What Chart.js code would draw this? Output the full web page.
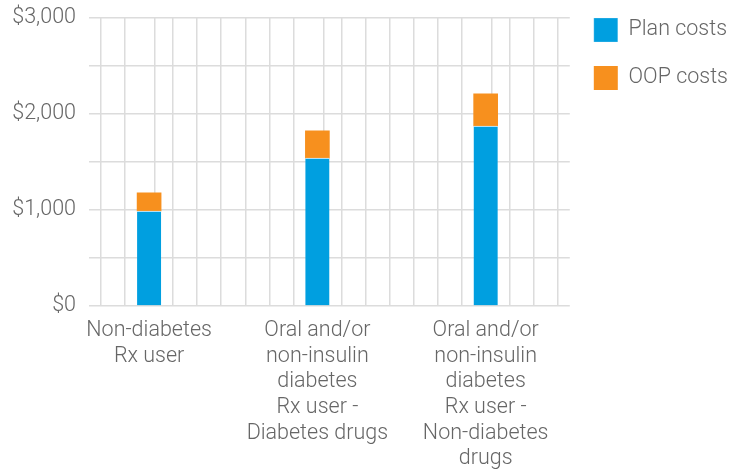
<!DOCTYPE html>
<html>
<head>
<meta charset="utf-8">
<script src="https://cdn.jsdelivr.net/npm/chart.js@4.4.1/dist/chart.umd.min.js"></script>
<style>
    html, body { margin: 0; padding: 0; background: #fff; }
</style>
</head>
<body>
<canvas id="costChart" width="738" height="469"></canvas>
<script>
const categories = [
    ['Non-diabetes', 'Rx user'],
    ['Oral and/or', 'non-insulin', 'diabetes', 'Rx user -', 'Diabetes drugs'],
    ['Oral and/or', 'non-insulin', 'diabetes', 'Rx user -', 'Non-diabetes', 'drugs'],
];
const planCosts = [990, 1540, 1875];
const oopCosts = [190, 285, 335];
const yTickLabels = [0, 1000, 2000, 3000];

document.addEventListener('DOMContentLoaded', function () {
    const ctx = document.getElementById('costChart').getContext('2d');

    // plot is a 20 column grid, the bars sit in columns 3, 10 and 17
    const gridCols = 20;
    const barSlots = [2.5, 9.5, 16.5];
    const gridColor = '#dcdcdc';
    const textColor = '#666666';
    const font = { family: 'Roboto', weight: '300', size: 21.5, lineHeight: 1.19 };

    const toPoints = values => values.map((v, i) => ({ x: barSlots[i], y: v }));

    // legend items start at the top of the plot instead of one padding below it
    const legendUp = {
        id: 'legendUp',
        afterLayout(chart) {
            const pad = chart.options.plugins.legend.labels.padding;
            chart.legend.top = chart.chartArea.top - pad;
        },
    };

    new Chart(ctx, {
        type: 'bar',
        data: {
            datasets: [{
                label: 'Plan costs',
                data: toPoints(planCosts),
                backgroundColor: '#009fe0',
                borderColor: '#eef6fb',
                borderWidth: { top: 1, left: 0, right: 0, bottom: 0 },
                borderSkipped: false,
                barThickness: 24,
            }, {
                label: 'OOP costs',
                data: toPoints(oopCosts),
                backgroundColor: '#f7901e',
                borderWidth: 0,
                barThickness: 24,
            }],
        },
        options: {
            responsive: false,
            animation: false,
            devicePixelRatio: 1,
            layout: { padding: { top: 18, left: 6, right: 0, bottom: 0 } },
            scales: {
                x: {
                    type: 'linear',
                    min: 0,
                    max: gridCols,
                    stacked: true,
                    offset: false,
                    afterBuildTicks: scale => {
                        const vals = [];
                        for (let i = 0; i <= gridCols; i++) vals.push(i);
                        scale.ticks = vals.concat(barSlots).sort((a, b) => a - b).map(v => ({ value: v }));
                    },
                    afterFit: scale => {
                        scale.height = 469 - 306;
                        scale.paddingLeft = 0;
                        scale.paddingRight = 0;
                    },
                    grid: {
                        color: c => (c.tick && Number.isInteger(c.tick.value) ? gridColor : 'rgba(0,0,0,0)'),
                        lineWidth: 1.5,
                        drawTicks: false,
                    },
                    border: { display: false },
                    ticks: {
                        autoSkip: false,
                        maxRotation: 0,
                        minRotation: 0,
                        padding: 12,
                        color: textColor,
                        font: font,
                        callback: value => {
                            const i = barSlots.indexOf(value);
                            return i >= 0 ? categories[i] : '';
                        },
                    },
                },
                y: {
                    min: 0,
                    max: 3000,
                    stacked: true,
                    afterBuildTicks: scale => {
                        const vals = [];
                        for (let v = 0; v <= 3000; v += 250) vals.push({ value: v });
                        scale.ticks = vals;
                    },
                    afterFit: scale => {
                        scale.width = 89 - 6;
                        scale.paddingTop = 0;
                        scale.paddingBottom = 0;
                    },
                    grid: { color: gridColor, lineWidth: 1.5, drawTicks: false },
                    border: { display: false },
                    ticks: {
                        padding: 13,
                        color: textColor,
                        font: font,
                        callback: value => (yTickLabels.includes(value) ? '$' + value.toLocaleString('en-US') : ''),
                    },
                },
            },
            plugins: {
                legend: {
                    position: 'right',
                    align: 'start',
                    maxWidth: 169,
                    labels: {
                        boxWidth: 24,
                        boxHeight: 24,
                        padding: 24,
                        color: textColor,
                        font: font,
                    },
                },
                tooltip: { enabled: false },
            },
        },
        plugins: [legendUp],
    });
});
</script>
</body>
</html>
